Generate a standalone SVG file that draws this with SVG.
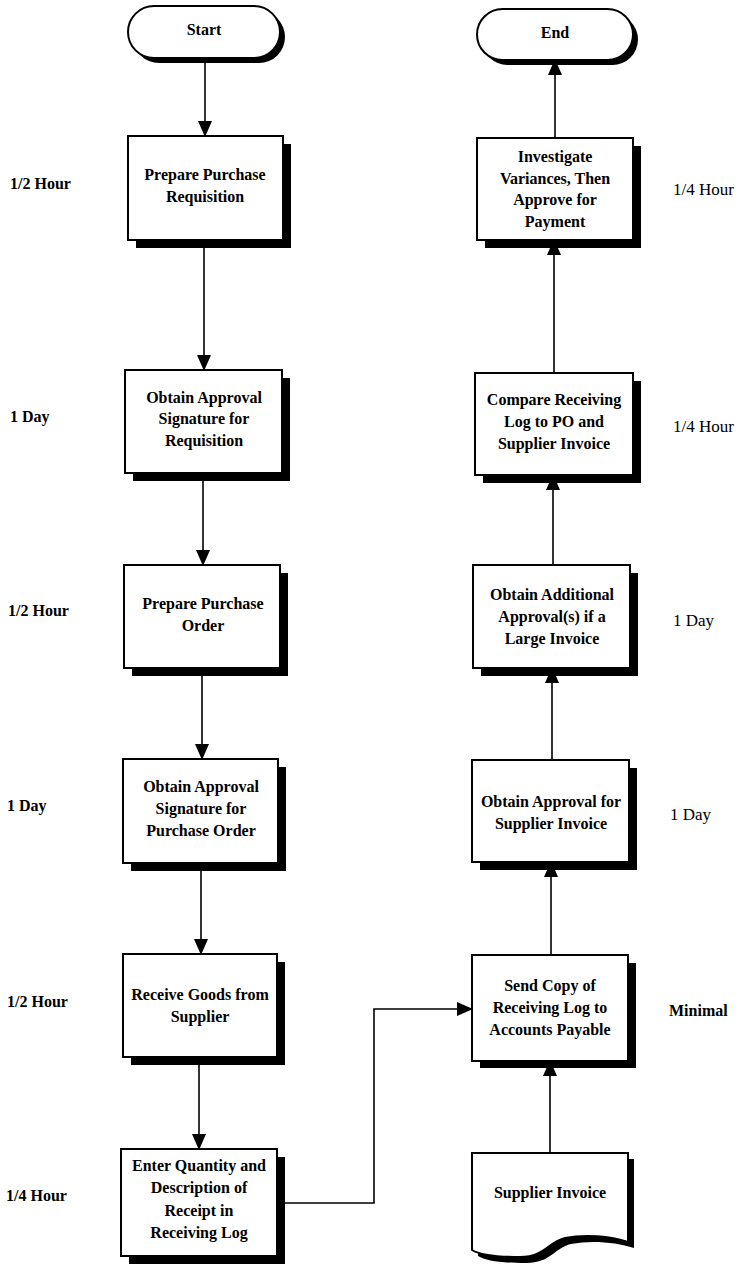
<svg xmlns="http://www.w3.org/2000/svg" width="738" height="1264" viewBox="0 0 738 1264">
  <style>
    .box { fill: #ffffff; stroke: #000000; stroke-width: 2; }
    .shadow { fill: #000000; stroke: none; }
    .lbl { font-family: "Liberation Serif", "Times New Roman", serif; font-size: 16px; font-weight: bold; fill: #000000; text-anchor: middle; }
    .time { font-family: "Liberation Serif", "Times New Roman", serif; font-size: 16px; font-weight: bold; fill: #000000; }
    .time-r { font-family: "Liberation Serif", "Times New Roman", serif; font-size: 17px; fill: #000000; }
    .link { fill: none; stroke: #000000; stroke-width: 1.6; }
  </style>
  <defs>
    <marker id="arrow" markerWidth="16" markerHeight="14" refX="15" refY="7" orient="auto" markerUnits="userSpaceOnUse">
      <path d="M0,0 L16,7 L0,14 Z" fill="#000000"/>
    </marker>
  </defs>

  <rect width="738" height="1264" fill="#ffffff"/>

  <!-- connectors -->
  <g id="connectors">
    <line class="link" x1="205" y1="58" x2="205" y2="136" marker-end="url(#arrow)"/>
    <line class="link" x1="204" y1="240" x2="204" y2="370" marker-end="url(#arrow)"/>
    <line class="link" x1="203" y1="473" x2="203" y2="565" marker-end="url(#arrow)"/>
    <line class="link" x1="202" y1="668" x2="202" y2="759" marker-end="url(#arrow)"/>
    <line class="link" x1="201" y1="863" x2="201" y2="954" marker-end="url(#arrow)"/>
    <line class="link" x1="199" y1="1057" x2="199" y2="1149" marker-end="url(#arrow)"/>
    <polyline class="link" points="277,1203 374,1203 374,1009 472,1009" marker-end="url(#arrow)"/>
    <line class="link" x1="550" y1="1153" x2="550" y2="1061" marker-end="url(#arrow)"/>
    <line class="link" x1="551" y1="955" x2="551" y2="862" marker-end="url(#arrow)"/>
    <line class="link" x1="552" y1="760" x2="552" y2="668" marker-end="url(#arrow)"/>
    <line class="link" x1="553" y1="565" x2="553" y2="475" marker-end="url(#arrow)"/>
    <line class="link" x1="554" y1="373" x2="554" y2="240" marker-end="url(#arrow)"/>
    <line class="link" x1="555" y1="138" x2="555" y2="60" marker-end="url(#arrow)"/>
  </g>

  <!-- left column -->
  <g id="start">
    <rect class="shadow" x="133" y="11" width="152" height="52" rx="26"/>
    <rect class="box" x="128" y="6" width="152" height="52" rx="26"/>
    <text class="lbl" x="204" y="35">Start</text>
  </g>

  <g id="prepare-requisition">
    <rect class="shadow" x="136" y="144" width="155" height="104"/>
    <rect class="box" x="128" y="136" width="155" height="104"/>
    <text class="lbl" x="205" y="180">Prepare Purchase</text>
    <text class="lbl" x="205" y="202">Requisition</text>
  </g>

  <g id="approve-requisition">
    <rect class="shadow" x="133" y="378" width="157" height="103"/>
    <rect class="box" x="125" y="370" width="157" height="103"/>
    <text class="lbl" x="204" y="403">Obtain Approval</text>
    <text class="lbl" x="204" y="424">Signature for</text>
    <text class="lbl" x="204" y="446">Requisition</text>
  </g>

  <g id="prepare-po">
    <rect class="shadow" x="132" y="573" width="156" height="103"/>
    <rect class="box" x="124" y="565" width="156" height="103"/>
    <text class="lbl" x="203" y="609">Prepare Purchase</text>
    <text class="lbl" x="203" y="631">Order</text>
  </g>

  <g id="approve-po">
    <rect class="shadow" x="131" y="767" width="155" height="104"/>
    <rect class="box" x="123" y="759" width="155" height="104"/>
    <text class="lbl" x="201" y="792">Obtain Approval</text>
    <text class="lbl" x="201" y="814">Signature for</text>
    <text class="lbl" x="201" y="836">Purchase Order</text>
  </g>

  <g id="receive-goods">
    <rect class="shadow" x="131" y="962" width="154" height="103"/>
    <rect class="box" x="123" y="954" width="154" height="103"/>
    <text class="lbl" x="200" y="1000">Receive Goods from</text>
    <text class="lbl" x="200" y="1022">Supplier</text>
  </g>

  <g id="enter-receipt">
    <rect class="shadow" x="129" y="1157" width="156" height="107"/>
    <rect class="box" x="121" y="1149" width="156" height="107"/>
    <text class="lbl" x="199" y="1171">Enter Quantity and</text>
    <text class="lbl" x="199" y="1193">Description of</text>
    <text class="lbl" x="199" y="1216">Receipt in</text>
    <text class="lbl" x="199" y="1238">Receiving Log</text>
  </g>

  <!-- right column -->
  <g id="end">
    <rect class="shadow" x="482" y="14" width="156" height="51" rx="25.5"/>
    <rect class="box" x="477" y="9" width="156" height="51" rx="25.5"/>
    <text class="lbl" x="555" y="38">End</text>
  </g>

  <g id="investigate">
    <rect class="shadow" x="485" y="146" width="156" height="102"/>
    <rect class="box" x="477" y="138" width="156" height="102"/>
    <text class="lbl" x="555" y="162">Investigate</text>
    <text class="lbl" x="555" y="184">Variances, Then</text>
    <text class="lbl" x="555" y="205">Approve for</text>
    <text class="lbl" x="555" y="227">Payment</text>
  </g>

  <g id="compare-log">
    <rect class="shadow" x="483" y="381" width="158" height="102"/>
    <rect class="box" x="475" y="373" width="158" height="102"/>
    <text class="lbl" x="554" y="405">Compare Receiving</text>
    <text class="lbl" x="554" y="427">Log to PO and</text>
    <text class="lbl" x="554" y="449">Supplier Invoice</text>
  </g>

  <g id="additional-approval">
    <rect class="shadow" x="481" y="573" width="157" height="103"/>
    <rect class="box" x="473" y="565" width="157" height="103"/>
    <text class="lbl" x="552" y="600">Obtain Additional</text>
    <text class="lbl" x="552" y="622">Approval(s) if a</text>
    <text class="lbl" x="552" y="644">Large Invoice</text>
  </g>

  <g id="approve-invoice">
    <rect class="shadow" x="480" y="768" width="157" height="102"/>
    <rect class="box" x="472" y="760" width="157" height="102"/>
    <text class="lbl" x="551" y="807">Obtain Approval for</text>
    <text class="lbl" x="551" y="829">Supplier Invoice</text>
  </g>

  <g id="send-log">
    <rect class="shadow" x="480" y="963" width="156" height="105"/>
    <rect class="box" x="472" y="955" width="156" height="106"/>
    <text class="lbl" x="550" y="991">Send Copy of</text>
    <text class="lbl" x="550" y="1013">Receiving Log to</text>
    <text class="lbl" x="550" y="1035">Accounts Payable</text>
  </g>

  <g id="supplier-invoice">
    <path class="shadow" d="M478,1159 H634 V1248 C616,1242 591,1240 571,1244 C554,1248 551,1263 526,1263 C501,1263 486,1261 478,1256 Z"/>
    <path class="box" d="M472,1153 H628 V1242 C610,1236 585,1234 565,1238 C548,1242 545,1257 520,1257 C495,1257 480,1255 472,1250 Z"/>
    <text class="lbl" x="550" y="1198">Supplier Invoice</text>
  </g>

  <!-- durations -->
  <g id="durations">
    <text class="time" x="10" y="189">1/2 Hour</text>
    <text class="time" x="10" y="422">1 Day</text>
    <text class="time" x="8" y="616">1/2 Hour</text>
    <text class="time" x="7" y="811">1 Day</text>
    <text class="time" x="7" y="1007">1/2 Hour</text>
    <text class="time" x="6" y="1201">1/4 Hour</text>
    <text class="time-r" x="673" y="195">1/4 Hour</text>
    <text class="time-r" x="673" y="432">1/4 Hour</text>
    <text class="time-r" x="673" y="626">1 Day</text>
    <text class="time-r" x="670" y="820">1 Day</text>
    <text class="time" x="669" y="1016">Minimal</text>
  </g>
</svg>
